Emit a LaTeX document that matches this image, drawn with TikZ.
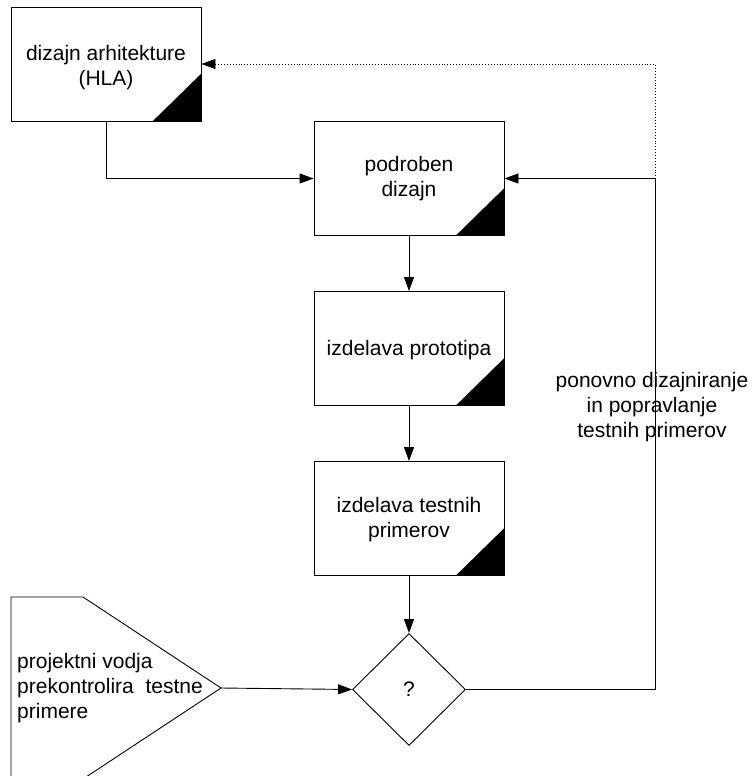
\documentclass[tikz,border=0pt]{standalone}
\usepackage{fontspec}
\setmainfont{Liberation Sans}
\usetikzlibrary{arrows.meta,shapes.geometric}
\tikzset{
  box/.style={draw=black, line width=0.9pt, minimum width=190pt, minimum height=114pt, inner sep=0pt, fill=white},
  txt/.style={align=center, font=\fontsize{21}{25}\selectfont, inner sep=0pt},
  arr/.style={draw=black, line width=0.9pt, -{Triangle[length=14pt,width=10pt]}},
  corner/.style={fill=black},
}
\begin{document}
\begin{tikzpicture}[x=1pt,y=-1pt]
\useasboundingbox (0,0) rectangle (754,776);
% boxes
\node[box] (hla) at (106,64) {};
\node[txt] (hlat) at (106,68) {dizajn arhitekture\\(HLA)};
\node[box] (pod) at (409,178.5) {};
\node[txt] (podt) at (409,178.5) {podroben\\dizajn};
\node[box] (pro) at (409,348.5) {};
\node[txt] (prot) at (409,350) {izdelava prototipa};
\node[box] (tes) at (409,518.5) {};
\node[txt] (test) at (409,520) {izdelava testnih\\primerov};
% black corner triangles
\foreach \b in {hla,pod,pro,tes}{
  \fill[corner] (\b.south east) -- ++(-49,0) -- ++(49,-48) -- cycle;
}
% diamond
\node[draw=black, line width=0.9pt, diamond, minimum width=113pt, minimum height=112pt, inner sep=0pt, txt] (q) at (409,689.5) {?};
% pentagon (cut by the page edge)
\begin{scope}
\clip (0,0) rectangle (754,776);
\draw[line width=0.9pt] (11,800) -- (11,597) -- (83,597) -- (221,688) -- (83,779);
\end{scope}
\coordinate (pv) at (221,688);
\node[txt, align=left, anchor=west] (pvt) at (17,688) {projektni vodja\\prekontrolira\ \ testne\\primere};
% connectors
\draw[arr] (hla.south) |- (pod.west);
\draw[arr] (pod.south) -- (pro.north);
\draw[arr] (pro.south) -- (tes.north);
\draw[arr] (tes.south) -- (q.north);
\draw[arr] (pv) -- (q.west);
\coordinate (c1) at (655,689.5);
\draw[arr] (q.east) -- (c1) |- (pod.east);
\draw[arr, dotted] (c1) |- (hla.east);
\node[txt] (lbl) at (652,407) {ponovno dizajniranje\\in popravlanje\\testnih primerov};
\end{tikzpicture}
\end{document}
